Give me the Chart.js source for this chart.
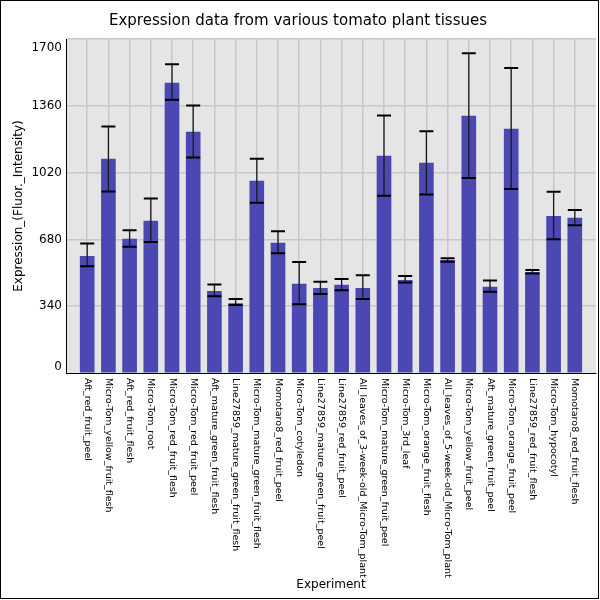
<!DOCTYPE html>
<html>
<head>
<meta charset="utf-8">
<script src="https://cdn.jsdelivr.net/npm/chart.js@4"></script>
<style>
  html, body { margin: 0; padding: 0; background: #ffffff; }
  #wrap { width: 600px; height: 600px; }
</style>
</head>
<body>
<div id="wrap"><canvas id="c" width="600" height="600"></canvas></div>
<script>
const categories = [
  "Aft_red_fruit_peel",
  "Micro-Tom_yellow_fruit_flesh",
  "Aft_red_fruit_flesh",
  "Micro-Tom_root",
  "Micro-Tom_red_fruit_flesh",
  "Micro-Tom_red_fruit_peel",
  "Aft_mature_green_fruit_flesh",
  "Line27859_mature_green_fruit_flesh",
  "Micro-Tom_mature_green_fruit_flesh",
  "Momotaro8_red_fruit_peel",
  "Micro-Tom_cotyledon",
  "Line27859_mature_green_fruit_peel",
  "Line27859_red_fruit_peel",
  "All_leaves_of_3-week-old_Micro-Tom_plant",
  "Micro-Tom_mature_green_fruit_peel",
  "Micro-Tom_3rd_leaf",
  "Micro-Tom_orange_fruit_flesh",
  "All_leaves_of_5-week-old_Micro-Tom_plant",
  "Micro-Tom_yellow_fruit_peel",
  "Aft_mature_green_fruit_peel",
  "Micro-Tom_orange_fruit_peel",
  "Line27859_red_fruit_flesh",
  "Micro-Tom_hypocotyl",
  "Momotaro8_red_fruit_flesh"
];
const values   = [594,1089,681,773,1476,1226,416,353,977,661,452,431,447,431,1104,472,1068,574,1308,437,1241,513,798,788];
const errLow   = [543,924,642,667,1391,1097,391,346,866,610,350,402,421,377,902,460,909,566,993,413,937,506,681,752];
const errHigh  = [659,1255,727,888,1572,1362,450,377,1090,722,565,465,479,498,1311,494,1231,584,1627,471,1552,524,922,830];
const yTicks   = [0,340,680,1020,1360,1700];

const chartTitle = "Expression data from various tomato plant tissues";
const xTitle = "Experiment";
const yTitle = "Expression_(Fluor._Intensity)";

const FONT = "'DejaVu Sans', sans-serif";

const decor = {
  id: 'decor',
  beforeDraw(chart) {
    const {ctx, chartArea: a} = chart;
    ctx.save();
    ctx.fillStyle = '#ffffff';
    ctx.fillRect(0, 0, chart.width, chart.height);
    ctx.fillStyle = '#e5e5e5';
    ctx.fillRect(a.left, a.top, a.right - a.left, a.bottom - a.top);
    ctx.restore();
  },
  afterDatasetsDraw(chart) {
    const {ctx} = chart;
    const xs = chart.scales.x, ys = chart.scales.y;
    const meta = chart.getDatasetMeta(0);
    ctx.save();
    for (let i = 0; i < values.length; i++) {
      const x = xs.getPixelForValue(i);
      const w = meta.data[i] ? meta.data[i].width : 14;
      const yl = ys.getPixelForValue(errLow[i]);
      const yh = ys.getPixelForValue(errHigh[i]);
      ctx.strokeStyle = '#1a1a1a';
      ctx.lineWidth = 1.3;
      ctx.beginPath();
      ctx.moveTo(x, yl); ctx.lineTo(x, yh);
      ctx.stroke();
      ctx.strokeStyle = '#000000';
      ctx.lineWidth = 2;
      ctx.beginPath();
      ctx.moveTo(x - w / 2, yh); ctx.lineTo(x + w / 2, yh);
      ctx.moveTo(x - w / 2, yl); ctx.lineTo(x + w / 2, yl);
      ctx.stroke();
    }
    ctx.restore();
  },
  afterDraw(chart) {
    const {ctx, chartArea: a} = chart;
    const xs = chart.scales.x, ys = chart.scales.y;
    ctx.save();
    ctx.fillStyle = '#000000';
    ctx.font = "9.5px " + FONT;
    ctx.textAlign = 'left';
    ctx.textBaseline = 'middle';
    categories.forEach((c, i) => {
      const x = xs.getPixelForValue(i);
      ctx.save();
      ctx.translate(x, a.bottom + 5);
      ctx.rotate(Math.PI / 2);
      ctx.fillText(c, 0, 0);
      ctx.restore();
    });
    ctx.font = "12px " + FONT;
    ctx.textAlign = 'right';
    ctx.textBaseline = 'middle';
    yTicks.forEach(v => {
      let y = ys.getPixelForValue(v);
      y = Math.max(a.top + 9, Math.min(a.bottom - 6, y));
      ctx.fillText(String(v), a.left - 4, y);
    });
    ctx.strokeStyle = '#000000';
    ctx.lineWidth = 1;
    ctx.strokeRect(0.5, 0.5, 598, 598);
    ctx.restore();
  }
};

new Chart(document.getElementById('c'), {
  type: 'bar',
  data: {
    datasets: [{
      data: categories.map((c, i) => ({x: i, y: values[i]})),
      backgroundColor: '#4b47b3',
      borderWidth: 0,
      barThickness: 14
    }]
  },
  options: {
    responsive: false,
    animation: false,
    devicePixelRatio: 1,
    layout: { padding: { left: 0, right: 4, top: 0, bottom: 0 } },
    plugins: {
      legend: { display: false },
      tooltip: { enabled: false },
      title: {
        display: true,
        text: chartTitle,
        color: '#000000',
        font: { family: FONT, size: 15, weight: 'normal', lineHeight: 1.2 },
        padding: { top: 12, bottom: 9 }
      }
    },
    scales: {
      x: {
        type: 'linear',
        offset: false,
        min: -1,
        max: 24,
        ticks: { display: false, stepSize: 1 },
        grid: {
          offset: false,
          drawTicks: false,
          lineWidth: 1.5,
          color: ctx => (ctx.tick && (ctx.tick.value < 0 || ctx.tick.value > 23)) ? 'rgba(0,0,0,0)' : '#c8c8c8'
        },
        border: { display: true, color: '#000000', width: 1 },
        title: {
          display: true,
          text: xTitle,
          color: '#000000',
          font: { family: FONT, size: 12, lineHeight: 1.2 },
          padding: { top: 0, bottom: 8 }
        },
        afterFit(scale) {
          scale.height = 227;
          scale.paddingLeft = 0; scale.paddingRight = 0;
          scale.paddingTop = 0; scale.paddingBottom = 0;
        }
      },
      y: {
        min: 0,
        max: 1700,
        ticks: { display: false, stepSize: 340 },
        grid: {
          drawTicks: false,
          lineWidth: 1.5,
          color: ctx => (ctx.tick && ctx.tick.value === 0) ? 'rgba(0,0,0,0)' : '#c8c8c8'
        },
        border: { display: true, color: '#000000', width: 1 },
        title: {
          display: true,
          text: yTitle,
          color: '#000000',
          font: { family: FONT, size: 12, lineHeight: 1.2 },
          padding: { top: 12, bottom: 0 }
        },
        afterFit(scale) {
          scale.width = 66;
          scale.paddingLeft = 0; scale.paddingRight = 0;
          scale.paddingTop = 0; scale.paddingBottom = 0;
        }
      }
    }
  },
  plugins: [decor]
});
</script>
</body>
</html>
